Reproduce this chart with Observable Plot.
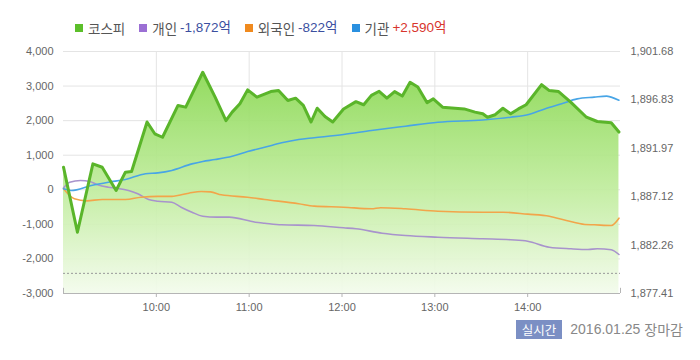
<!DOCTYPE html>
<html><head><meta charset="utf-8">
<script src="https://cdn.jsdelivr.net/npm/d3@7"></script>
<script src="https://cdn.jsdelivr.net/npm/@observablehq/plot@0.6"></script>
<style>
body{margin:0;background:#fff;}
#wrap{position:relative;width:700px;height:360px;overflow:hidden;font-family:"Liberation Sans","Noto Sans CJK KR",sans-serif;}
#chart{position:absolute;left:0;top:0;}
#legend{position:absolute;left:75px;top:18px;height:20px;display:flex;align-items:center;white-space:nowrap;font-family:"Noto Sans CJK KR",sans-serif;font-size:13.5px;color:#555;line-height:20px;}
#legend .item{display:flex;align-items:center;margin-right:14px;}
#legend .sq{width:8px;height:8px;margin-right:5px;}
#legend .num{margin-left:3px;font-family:"Liberation Sans","Noto Sans CJK KR",sans-serif;}
#caption{position:absolute;right:17px;top:319px;display:flex;align-items:center;white-space:nowrap;font-family:"Noto Sans CJK KR",sans-serif;font-size:14px;color:#888;line-height:20px;}
#caption .num{font-family:"Liberation Sans",sans-serif;margin-right:4px;}
#caption .badge{background:#7b8fc4;color:#fff;font-size:12.5px;padding:0 6px;line-height:19px;margin-right:8px;}
</style>
</head><body>
<div id="wrap"><div id="chart"></div><div id="legend"></div><div id="caption"><span class="badge">실시간</span><span class="num">2016.01.25</span><span>장마감</span></div></div>
<script>
// ---- data ----
const kospiTime = ["09:00","09:09","09:19","09:25","09:34","09:40","09:44","09:54","09:59","10:04","10:14","10:19","10:30","10:38","10:45","10:49","10:54","10:59","11:05","11:14","11:19","11:25","11:30","11:35","11:40","11:44","11:49","11:54","12:01","12:09","12:14","12:19","12:24","12:29","12:34","12:39","12:44","12:49","12:55","12:59","13:05","13:19","13:26","13:31","13:34","13:39","13:44","13:49","13:54","13:59","14:09","14:14","14:20","14:28","14:38","14:45","14:54","14:59"];
const kospiValue = [1890.08,1883.55,1890.41,1890.07,1887.74,1889.58,1889.65,1894.61,1893.43,1893.08,1896.27,1896.10,1899.60,1897.10,1894.75,1895.60,1896.44,1897.83,1897.10,1897.66,1897.76,1896.76,1897.00,1896.27,1894.61,1895.99,1895.16,1894.61,1895.92,1896.65,1896.34,1897.28,1897.69,1897.00,1897.66,1897.21,1898.59,1898.11,1896.55,1896.93,1896.10,1895.92,1895.60,1895.44,1895.09,1895.34,1895.99,1895.44,1895.92,1896.34,1898.35,1897.76,1897.66,1896.58,1895.09,1894.66,1894.54,1893.60];
const prevClose = 1879.43;

const indivTime = ["09:00","09:04","09:11","09:17","09:22","09:29","09:34","09:42","09:48","09:55","10:01","10:10","10:16","10:23","10:30","10:39","10:47","11:04","11:10","11:21","11:42","12:01","12:09","12:26","12:41","13:02","13:31","13:49","14:00","14:14","14:28","14:39","14:45","14:54","14:59"];
const indivValue = [50,220,270,240,145,75,46,-20,-116,-280,-330,-360,-503,-648,-764,-792,-792,-937,-966,-1013,-1033,-1100,-1128,-1255,-1322,-1371,-1417,-1446,-1487,-1660,-1707,-1727,-1707,-1735,-1872];

const foreignTime = ["09:00","09:07","09:15","09:25","09:40","09:50","10:01","10:10","10:21","10:29","10:35","10:42","10:59","11:10","11:32","11:42","12:01","12:19","12:25","12:41","13:02","13:31","13:44","14:00","14:14","14:25","14:37","14:43","14:54","14:59"];
const foreignValue = [30,-260,-320,-280,-280,-214,-190,-190,-98,-49,-60,-145,-214,-280,-405,-474,-503,-550,-520,-550,-620,-648,-648,-705,-764,-888,-1004,-1013,-1033,-822];

const instTime = ["09:00","09:05","09:18","09:29","09:40","09:53","10:01","10:10","10:23","10:30","10:38","10:49","10:59","11:10","11:21","11:32","11:42","12:01","12:19","12:41","13:02","13:31","13:49","14:00","14:11","14:22","14:32","14:43","14:51","14:54","14:59"];
const instValue = [30,-20,125,220,300,465,490,560,750,820,875,970,1110,1230,1360,1455,1505,1600,1715,1840,1955,2020,2100,2170,2340,2490,2630,2680,2710,2680,2590];

const leftTicks = [-3000,-2000,-1000,0,1000,2000,3000,4000];
const rightTicks = [1877.41,1882.26,1887.12,1891.97,1896.83,1901.68];
const hourTicks = ["10:00","11:00","12:00","13:00","14:00"];
const dayStart = "09:00", dayEnd = "15:00";

const legendNames = ["코스피","개인","외국인","기관"];
const legendNet = [null,-1872,-822,2590];
const legendColors = ["#5cbf2a","#9b6fd4","#f08a1e","#2a90e0"];
const lineColors = {kospi:"#5ab52a", indiv:"#a893cc", foreign:"#f2a54a", inst:"#48a5e6"};

// ---- helpers ----
const parse = s => new Date(2016,0,25,+s.slice(0,2),+s.slice(3,5));
const kMin = rightTicks[0], kMax = rightTicks[rightTicks.length-1];
const yMin = leftTicks[0], yMax = leftTicks[leftTicks.length-1];
const kToY = k => yMin + (k-kMin)/(kMax-kMin)*(yMax-yMin);
const yToK = y => kMin + (y-yMin)/(yMax-yMin)*(kMax-kMin);
const zip = (t,v) => t.map((s,i)=>({t:parse(s), v:v[i]}));
const fmtInt = d3.formatLocale({decimal:".", thousands:",", grouping:[3], currency:["",""], minus:"-"}).format(",");
const fmtK = d3.formatLocale({decimal:".", thousands:",", grouping:[3], currency:["",""], minus:"-"}).format(",.2f");

const kospi = zip(kospiTime, kospiValue).map(d=>({t:d.t, v:kToY(d.v)}));
const indiv = zip(indivTime, indivValue);
const foreign = zip(foreignTime, foreignValue);
const inst = zip(instTime, instValue);

const defs = () => {
  const d = d3.create("svg:defs");
  const g = d.append("linearGradient").attr("id","kgrad").attr("x1",0).attr("y1",0).attr("x2",0).attr("y2",1);
  g.append("stop").attr("offset","0%").attr("stop-color","#8ad852");
  g.append("stop").attr("offset","55%").attr("stop-color","#c2eda0");
  g.append("stop").attr("offset","100%").attr("stop-color","#f3fbec");
  return d.node();
};

const chart = Plot.plot({
  width:700, height:360,
  marginLeft:63, marginRight:80, marginTop:51, marginBottom:67,
  style:{fontFamily:"Liberation Sans, sans-serif", background:"transparent"},
  x:{type:"time", domain:[parse(dayStart), parse(dayEnd)]},
  y:{domain:[yMin,yMax]},
  marks:[
    defs,
    Plot.ruleY(leftTicks, {stroke:"#e4e4e4"}),
    Plot.ruleX(hourTicks.map(parse), {stroke:"#e4e4e4"}),
    Plot.areaY(kospi, {x:"t", y1:yMin, y2:"v", fill:"url(#kgrad)", fillOpacity:0.92}),
    Plot.ruleY([kToY(prevClose)], {stroke:"#999", strokeDasharray:"2,2"}),
    Plot.lineY(indiv, {x:"t", y:"v", stroke:lineColors.indiv, strokeWidth:1.6, curve:"monotone-x"}),
    Plot.lineY(foreign, {x:"t", y:"v", stroke:lineColors.foreign, strokeWidth:1.6, curve:"monotone-x"}),
    Plot.lineY(inst, {x:"t", y:"v", stroke:lineColors.inst, strokeWidth:1.6, curve:"monotone-x"}),
    Plot.lineY(kospi, {x:"t", y:"v", stroke:lineColors.kospi, strokeWidth:3, strokeLinejoin:"round"}),
    Plot.ruleY([yMin], {stroke:"#b5b5b5"}),
    Plot.ruleX([parse(dayStart), parse(dayEnd)], {y1:yMin, y2:yMin+150, stroke:"#b5b5b5"}),
    Plot.axisY({anchor:"left", ticks:leftTicks, tickSize:0, tickPadding:10, tickFormat:fmtInt, fontSize:11, color:"#666", label:null}),
    Plot.axisY({anchor:"right", ticks:rightTicks.map(kToY), tickSize:0, tickPadding:10, tickFormat:d=>fmtK(yToK(d)), fontSize:11, color:"#666", label:null}),
    Plot.axisX({ticks:hourTicks.map(parse), tickFormat:d3.timeFormat("%H:%M"), tickSize:4, tickPadding:6, fontSize:11, color:"#666", stroke:"#b5b5b5", label:null})
  ]
});
document.getElementById("chart").appendChild(chart);

// legend
const lg = document.getElementById("legend");
legendNames.forEach((n,i)=>{
  const it = document.createElement("span"); it.className="item";
  const sq = document.createElement("span"); sq.className="sq"; sq.style.background=legendColors[i];
  const lb = document.createElement("span"); lb.textContent=n;
  it.append(sq, lb);
  if (legendNet[i] !== null) {
    const nm = document.createElement("span"); nm.className="num";
    const v = legendNet[i];
    nm.textContent = (v>0?"+":"") + fmtInt(v) + "억";
    nm.style.color = v>0 ? "#d8352d" : "#3b4f9f";
    it.append(nm);
  }
  lg.append(it);
});
</script>
</body></html>
